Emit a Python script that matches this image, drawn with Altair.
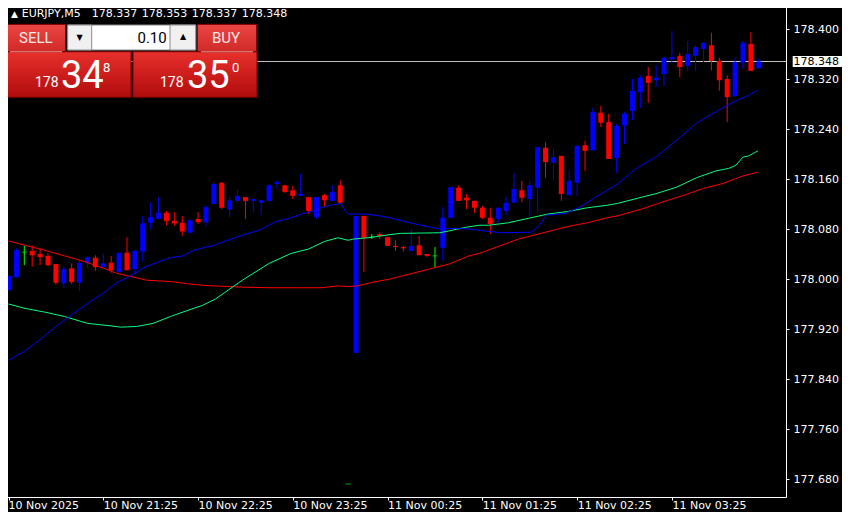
import altair as alt
import pandas as pd

# ---------------- data ----------------
OPEN = [177.982, 178.003, 178.043, 178.045, 178.040, 178.037, 178.024, 177.993, 178.017, 177.994,
        178.025, 178.034, 178.019, 178.026, 178.011, 178.042, 178.016, 178.044, 178.090, 178.096,
        178.106, 178.093, 178.090, 178.074, 178.096, 178.091, 178.120, 178.154, 178.111, 178.125,
        178.131, 178.125, 178.122, 178.125, 178.152, 178.150, 178.142, 178.133, 178.131, 178.099,
        178.134, 178.125, 178.150, 177.672, 177.882, 178.101, 178.067, 178.072, 178.067, 178.053,
        178.051, 178.045, 178.054, 178.040, 178.037, 178.050, 178.098, 178.146, 178.130, 178.125,
        178.114, 178.098, 178.096, 178.109, 178.122, 178.142, 178.128, 178.146, 178.210, 178.186,
        178.197, 178.134, 178.154, 178.214, 178.206, 178.266, 178.251, 178.194, 178.246, 178.269,
        178.299, 178.325, 178.318, 178.328, 178.352, 178.357, 178.341, 178.357, 178.368, 178.374,
        178.349, 178.320, 178.293, 178.346, 178.376, 178.337]
HIGH = [178.005, 178.049, 178.053, 178.054, 178.050, 178.041, 178.024, 178.021, 178.025, 178.032,
        178.036, 178.038, 178.041, 178.037, 178.042, 178.067, 178.046, 178.101, 178.123, 178.131,
        178.109, 178.107, 178.101, 178.094, 178.107, 178.118, 178.155, 178.155, 178.133, 178.143,
        178.131, 178.131, 178.126, 178.152, 178.158, 178.150, 178.149, 178.168, 178.131, 178.131,
        178.136, 178.150, 178.158, 177.672, 178.101, 178.101, 178.072, 178.074, 178.067, 178.062,
        178.053, 178.080, 178.069, 178.040, 178.051, 178.115, 178.147, 178.150, 178.136, 178.125,
        178.117, 178.114, 178.114, 178.131, 178.170, 178.157, 178.157, 178.211, 178.219, 178.208,
        178.197, 178.173, 178.214, 178.221, 178.274, 178.277, 178.264, 178.248, 178.267, 178.320,
        178.326, 178.339, 178.342, 178.355, 178.397, 178.362, 178.381, 178.374, 178.378, 178.394,
        178.354, 178.326, 178.354, 178.381, 178.395, 178.353]
LOW = [177.982, 178.002, 178.022, 178.020, 178.022, 178.021, 177.991, 177.985, 177.992, 177.981,
       178.017, 178.013, 178.019, 178.010, 178.011, 178.014, 178.008, 178.028, 178.080, 178.096,
       178.086, 178.085, 178.069, 178.074, 178.088, 178.085, 178.120, 178.112, 178.099, 178.121,
       178.096, 178.107, 178.102, 178.125, 178.144, 178.138, 178.128, 178.133, 178.104, 178.096,
       178.115, 178.125, 178.122, 177.672, 177.882, 178.011, 178.064, 178.064, 178.053, 178.045,
       178.044, 178.045, 178.038, 178.035, 178.018, 178.029, 178.098, 178.125, 178.112, 178.106,
       178.096, 178.072, 178.090, 178.102, 178.122, 178.123, 178.101, 178.106, 178.162, 178.157,
       178.125, 178.134, 178.133, 178.173, 178.206, 178.243, 178.192, 178.170, 178.216, 178.254,
       178.274, 178.282, 178.307, 178.309, 178.346, 178.323, 178.333, 178.333, 178.346, 178.334,
       178.301, 178.251, 178.291, 178.336, 178.333, 178.337]
CLOSE = [178.005, 178.046, 178.043, 178.038, 178.035, 178.022, 177.994, 178.016, 177.995, 178.026,
         178.035, 178.019, 178.025, 178.014, 178.042, 178.014, 178.045, 178.089, 178.099, 178.106,
         178.093, 178.089, 178.076, 178.094, 178.091, 178.115, 178.152, 178.114, 178.126, 178.133,
         178.125, 178.128, 178.126, 178.150, 178.155, 178.139, 178.133, 178.136, 178.109, 178.131,
         178.126, 178.139, 178.122, 177.672, 178.101, 178.066, 178.067, 178.069, 178.053, 178.051,
         178.049, 178.053, 178.038, 178.037, 178.037, 178.098, 178.147, 178.125, 178.126, 178.114,
         178.098, 178.088, 178.114, 178.122, 178.144, 178.130, 178.150, 178.211, 178.187, 178.195,
         178.136, 178.157, 178.213, 178.205, 178.267, 178.250, 178.192, 178.245, 178.264, 178.301,
         178.322, 178.314, 178.322, 178.354, 178.355, 178.339, 178.360, 178.371, 178.378, 178.349,
         178.318, 178.291, 178.347, 178.378, 178.333, 178.348]

# moving averages: bar position -> value
MA_FAST_K = [0, 2.1, 3.7, 5.8, 7.5, 8.7, 10.5, 12.1, 13.7, 15.5, 17.1, 18.7, 20.5, 22.1, 23.3, 24.6,
             25.8, 27.5, 29.6, 31.7, 33.7, 35.8, 37.1, 38.3, 39.6, 40.8, 42.1, 42.7, 43.1, 45.0, 46.5,
             48.3, 50.8, 53.0, 54.6, 55.8, 58.3, 60.8, 62.5, 66.2, 67.1, 68.1, 70.5, 72.5, 74.2, 75.8,
             77.1, 79.6, 82.1, 84.6, 87.1, 89.6, 92.1, 93.7, 94.9]
MA_FAST_V = [177.870, 177.885, 177.900, 177.922, 177.938, 177.949, 177.965, 177.978, 177.994, 178.005,
             178.018, 178.026, 178.034, 178.037, 178.045, 178.050, 178.053, 178.061, 178.070, 178.078,
             178.091, 178.098, 178.104, 178.108, 178.114, 178.118, 178.121, 178.108, 178.104, 178.104,
             178.102, 178.098, 178.090, 178.084, 178.080, 178.081, 178.080, 178.076, 178.074, 178.075,
             178.084, 178.102, 178.105, 178.116, 178.130, 178.142, 178.152, 178.178, 178.196, 178.222,
             178.249, 178.268, 178.285, 178.294, 178.302]
MA_MID_K = [0, 2.1, 4.6, 7.1, 10.0, 13.0, 14.2, 16.2, 18.3, 20.5, 22.5, 24.6, 26.2, 29.6, 33.0, 35.8,
            38.0, 40.0, 41.7, 43.0, 43.7, 45.5, 48.3, 49.6, 54.6, 55.8, 58.0, 59.6, 60.8, 63.3, 65.8,
            68.3, 70.8, 73.3, 75.8, 77.1, 79.6, 82.1, 84.6, 87.1, 89.6, 91.2, 92.1, 93.0, 93.7, 94.9]
MA_MID_V = [177.960, 177.953, 177.947, 177.940, 177.929, 177.925, 177.923, 177.924, 177.929, 177.940,
            177.949, 177.958, 177.968, 177.998, 178.025, 178.041, 178.048, 178.060, 178.066, 178.062,
            178.064, 178.066, 178.071, 178.073, 178.074, 178.077, 178.083, 178.086, 178.086, 178.090,
            178.097, 178.104, 178.108, 178.114, 178.118, 178.121, 178.129, 178.137, 178.147, 178.162,
            178.173, 178.177, 178.182, 178.195, 178.197, 178.205]
MA_SLOW_K = [0, 2.1, 4.6, 7.1, 9.6, 12.1, 13.7, 15.5, 17.5, 20.5, 23.0, 24.6, 25.8, 29.6, 33.0, 37.1,
             39.6, 41.7, 43.0, 44.2, 46.2, 48.3, 50.8, 53.3, 55.8, 58.3, 59.6, 64.6, 67.1, 70.8, 73.3,
             75.8, 77.1, 80.2, 83.0, 85.5, 88.0, 90.5, 93.0, 94.9]
MA_SLOW_V = [178.061, 178.054, 178.046, 178.037, 178.028, 178.017, 178.009, 178.004, 177.998, 177.996,
             177.992, 177.990, 177.989, 177.987, 177.986, 177.986, 177.986, 177.989, 177.988, 177.989,
             177.995, 178.000, 178.008, 178.016, 178.024, 178.037, 178.041, 178.064, 178.072, 178.084,
             178.090, 178.098, 178.101, 178.112, 178.124, 178.134, 178.145, 178.153, 178.165, 178.171]

TIME_TICKS = [0, 12, 24, 36, 48, 60, 72, 84]
TIME_LABELS = ["10 Nov 2025", "10 Nov 21:25", "10 Nov 22:25", "10 Nov 23:25",
               "11 Nov 00:25", "11 Nov 01:25", "11 Nov 02:25", "11 Nov 03:25"]
PRICE_TICKS = [177.68, 177.76, 177.84, 177.92, 178.00, 178.08, 178.16, 178.24, 178.32, 178.40]
SYMBOL = "EURJPY,M5"
BID = 178.348
ASK = 178.350
LOT = "0.10"

# ---------------- tables ----------------
n = len(OPEN)
df = pd.DataFrame({"k": list(range(n)), "o": OPEN, "h": HIGH, "l": LOW, "c": CLOSE})
df["kind"] = ["doji" if o == c else ("up" if c > o else "down") for o, c in zip(OPEN, CLOSE)]
ONE = pd.DataFrame({"a": [0]})

xs = alt.Scale(domain=[0.0625, 97.8125], nice=False, zero=False)
ys = alt.Scale(domain=[177.6512, 178.4416], nice=False, zero=False)
cs = alt.Scale(domain=["up", "down", "doji"], range=["#0000ff", "#ff0000", "#00ff00"])

# first label is drawn separately so that it is not cut by the page edge
label_expr = ("datum.value == 0 ? '' : [" + ",".join("'%s'" % t for t in TIME_LABELS)
              + "][round(datum.value/12)]")
FONT = "DejaVu Sans"

x_axis = alt.Axis(values=TIME_TICKS, labelExpr=label_expr, labelAlign="left", labelBaseline="alphabetic",
                  labelColor="white", labelFont=FONT, labelFontSize=11, labelPadding=8.5,
                  labelFlush=False, labelOverlap=False, tickColor="white", tickSize=3,
                  domainColor="white", grid=False, title=None)
y_axis = alt.Axis(orient="right", values=PRICE_TICKS, format=".3f", labelColor="white", labelFont=FONT,
                  labelFontSize=11, labelPadding=4, tickSize=3, tickColor="white", domainColor="white",
                  grid=False, title=None, labelFlush=False, labelOverlap=False)


def X(f="k"):
    return alt.X(f + ":Q", scale=xs, axis=x_axis)


def Y(f):
    return alt.Y(f + ":Q", scale=ys, axis=y_axis)


price_line = alt.Chart(pd.DataFrame({"p": [BID]})).mark_rule(color="#c0c0c0", strokeWidth=1).encode(
    y=Y("p"), x=alt.value(-4), x2=alt.value(782))

wicks = alt.Chart(df).mark_rule(strokeWidth=1, clip=True).encode(
    x=X(), y=Y("l"), y2="h:Q",
    color=alt.Color("kind:N", scale=cs, legend=None))

bodies = alt.Chart(df).transform_filter("datum.kind != 'doji'").mark_bar(size=5, clip=True).encode(
    x=X(), y=Y("o"), y2="c:Q",
    color=alt.Color("kind:N", scale=cs, legend=None))

dojis = alt.Chart(df).transform_filter("datum.kind == 'doji'").mark_tick(
    orient="horizontal", size=5, thickness=1, color="#00ff00", clip=True).encode(
    x=X(), y=Y("o"))


def ma_layer(ks, vs, color):
    d = pd.DataFrame({"k": ks, "v": vs})
    return alt.Chart(d).mark_line(color=color, strokeWidth=1, clip=True).encode(
        x=X(), y=Y("v"), order="k:Q")


ma_slow = ma_layer(MA_SLOW_K, MA_SLOW_V, "#ff0000")
ma_mid = ma_layer(MA_MID_K, MA_MID_V, "#00ff7f")
ma_fast = ma_layer(MA_FAST_K, MA_FAST_V, "#0000ff")


def rect(x1, x2, y1, y2, **kw):
    return alt.Chart(ONE).mark_rect(**kw).encode(
        x=alt.value(x1), x2=alt.value(x2), y=alt.value(y1), y2=alt.value(y2))


def text(s, x, y, size, color="white", align="left", baseline="alphabetic", font=FONT):
    return alt.Chart(ONE).mark_text(text=s, align=align, baseline=baseline, fontSize=size,
                                    font=font, color=color).encode(x=alt.value(x), y=alt.value(y))


def grad(c1, c2):
    return alt.Gradient(gradient="linear", x1=0, x2=0, y1=0, y2=1,
                        stops=[alt.GradientStop(offset=0, color=c1), alt.GradientStop(offset=1, color=c2)])


bid_s = "%.3f" % BID
ask_s = "%.3f" % ASK
PF = "Roboto"

panel = [
    rect(2, 127, 48.7, 94.3, fill=grad("#e8302c", "#b00c0c"), stroke="#7a0000", strokeWidth=1),
    rect(129, 253, 48.7, 94.3, fill=grad("#e8302c", "#b00c0c"), stroke="#7a0000", strokeWidth=1),
    rect(2, 61.7, 21.3, 48.7, fill=grad("#ea4644", "#d02a28"), stroke="#7a0000", strokeWidth=1),
    rect(193.3, 252.7, 21.3, 48.7, fill=grad("#ea4644", "#d02a28"), stroke="#7a0000", strokeWidth=1),
    rect(63.7, 191.7, 22, 47, fill="#ffffff", stroke="#8a8a8a", strokeWidth=1),
    rect(63.7, 87.7, 22, 47, fill="#f0f0f0", stroke="#8a8a8a", strokeWidth=1),
    rect(166, 191.7, 22, 47, fill="#f0f0f0", stroke="#8a8a8a", strokeWidth=1),
    rect(6, 58, 48.2, 49.2, fill="#f29a98"),
    rect(197, 249, 48.2, 49.2, fill="#f29a98"),
    text("SELL", 31.8, 35, 15, color="#ffe8e8", align="center", baseline="middle", font=PF),
    text("BUY", 222, 35, 15, color="#ffe8e8", align="center", baseline="middle", font=PF),
    text(LOT, 162.7, 35, 15, color="#000000", align="right", baseline="middle", font=PF),
    text("▼", 75.7, 35, 8, color="#000000", align="center", baseline="middle"),
    text("▲", 179, 34, 8, color="#000000", align="center", baseline="middle"),
    text(bid_s[:3], 31, 84.3, 14, font=PF),
    text(bid_s[4:6], 57, 85, 38, font=PF),
    text(bid_s[6], 99, 68.5, 13, font=PF),
    text(ask_s[:3], 156, 84.3, 14, font=PF),
    text(ask_s[4:6], 183, 85, 38, font=PF),
    text(ask_s[6], 228, 68.5, 13, font=PF),
]

header = [
    text("▲", 7, 13.5, 9),
    text(SYMBOL, 17.7, 13.7, 11),
    text("%.3f" % OPEN[-1], 87.7, 13.7, 11),
    text("%.3f" % HIGH[-1], 137.7, 13.7, 11),
    text("%.3f" % LOW[-1], 187.7, 13.7, 11),
    text("%.3f" % CLOSE[-1], 237.7, 13.7, 11),
    text(TIME_LABELS[0], 4.5, 506, 11),
]

price_box = alt.Chart(pd.DataFrame({"p": [BID]})).mark_rule(color="#ffffff", strokeWidth=11).encode(
    y=Y("p"), x=alt.value(788.7), x2=alt.value(838))
price_txt = alt.Chart(pd.DataFrame({"p": [BID]})).mark_text(
    align="left", baseline="middle", font=FONT, fontSize=11, color="#000000").encode(
    y=Y("p"), x=alt.value(789.5), text=alt.Text("p:Q", format=".3f"))

chart = alt.layer(
    price_line, wicks, bodies, dojis, ma_slow, ma_mid, ma_fast, *panel, *header, price_box, price_txt
).properties(
    width=782, height=494,
    padding={"left": -4, "top": -5, "right": 56, "bottom": 15},
    autosize=alt.AutoSizeParams(type="none"),
).configure(background="#000000").configure_view(strokeWidth=0)

chart.save("out.html", embed_options={"renderer": "svg", "actions": False})
